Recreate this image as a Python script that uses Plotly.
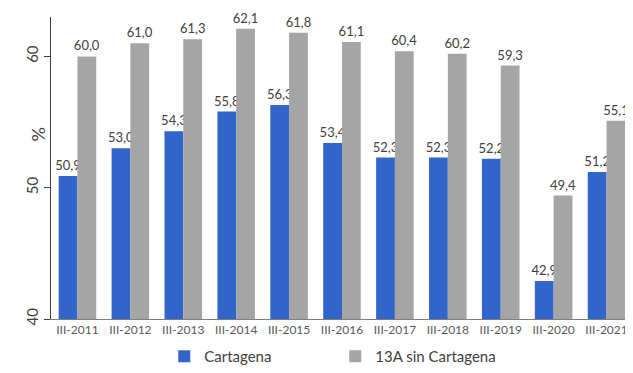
import plotly.graph_objects as go

periods = ["III-2011", "III-2012", "III-2013", "III-2014", "III-2015", "III-2016",
           "III-2017", "III-2018", "III-2019", "III-2020", "III-2021"]
cartagena = [50.9, 53.0, 54.3, 55.8, 56.3, 53.4, 52.3, 52.3, 52.2, 42.9, 51.2]
sin_cartagena = [60.0, 61.0, 61.3, 62.1, 61.8, 61.1, 60.4, 60.2, 59.3, 49.4, 55.1]


def fmt(v):
    return f"{v:.1f}".replace(".", ",")


fig = go.Figure()

fig.add_trace(go.Bar(
    x=periods, y=cartagena, name="Cartagena",
    marker=dict(color="#3265C9", line=dict(width=0)),
    text=[fmt(v) for v in cartagena], textposition="outside",
    textfont=dict(size=13, color="#404040"),
    constraintext="none", cliponaxis=False,
))

fig.add_trace(go.Bar(
    x=periods, y=sin_cartagena, name="13A sin Cartagena",
    marker=dict(color="#A5A5A5", line=dict(width=0)),
    text=[fmt(v) for v in sin_cartagena], textposition="outside",
    textfont=dict(size=13, color="#404040"),
    constraintext="none", cliponaxis=False,
))

# "%" axis label sits in the same column as the rotated tick labels
fig.add_annotation(
    text="%", xref="paper", yref="paper", x=-0.045, y=0.61,
    textangle=-90, showarrow=False, font=dict(size=18, color="#404040"),
)

# page body adds an 8px offset, so the figure is 8px smaller than the window
fig.update_layout(
    width=625, height=365,
    margin=dict(l=43, r=0, t=9, b=54),
    barmode="group", bargap=0.29, bargroupgap=0,
    plot_bgcolor="white", paper_bgcolor="white",
    font=dict(family="Lato, Open Sans, sans-serif", color="#595959"),
    showlegend=True,
    legend=dict(orientation="h", xref="container", yref="container",
                x=0.25, y=0.045, xanchor="left", yanchor="middle",
                entrywidth=126, itemwidth=30,
                font=dict(size=15, color="#404040"),
                tracegroupgap=0),
    xaxis=dict(showline=True, linecolor="#7F7F7F", linewidth=1, ticks="",
               tickfont=dict(size=12, color="#595959"), showgrid=False,
               automargin=False),
    yaxis=dict(range=[40, 63], tickvals=[40, 50, 60], showline=True,
               linecolor="#404040", linewidth=1, ticks="outside", ticklen=6,
               tickcolor="#404040", tickangle=-90,
               tickfont=dict(size=15, color="#404040"), showgrid=False,
               zeroline=False, automargin=False),
)

fig.write_html("out.html")
